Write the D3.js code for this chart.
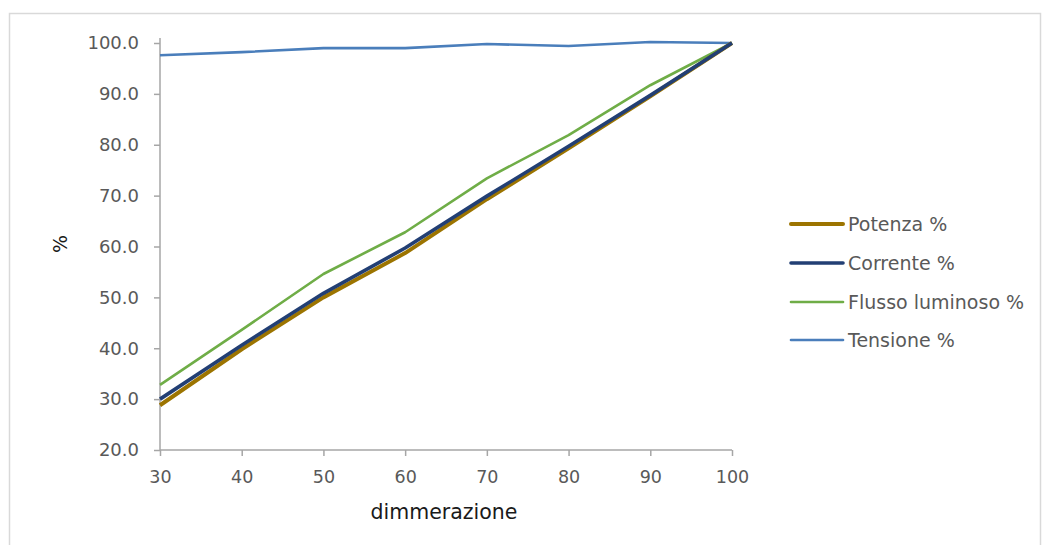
<!DOCTYPE html>
<html>
<head>
<meta charset="utf-8">
<script src="https://cdn.jsdelivr.net/npm/d3@7"></script>
<style>
  html, body { margin: 0; padding: 0; background: #fff; }
  svg { display: block; }
  text { font-family: "DejaVu Sans", "Open Sans", sans-serif; }
</style>
</head>
<body>
<svg id="chart" width="1048" height="545"></svg>
<script>
const dimming = [30, 40, 50, 60, 70, 80, 90, 100];
const potenza = [28.8, 39.8, 50.0, 58.7, 69.3, 79.3, 89.5, 100.0];
const corrente = [30.0, 40.6, 50.8, 59.7, 69.9, 79.7, 89.7, 100.0];
const flusso = [32.8, 43.6, 54.6, 62.8, 73.4, 81.9, 91.7, 100.0];
const tensione = [97.6, 98.2, 99.0, 99.0, 99.8, 99.4, 100.2, 100.0];
const yTicks = [20, 30, 40, 50, 60, 70, 80, 90, 100];
const seriesNames = ["Potenza %", "Corrente %", "Flusso luminoso %", "Tensione %"];
const seriesColors = ["#9C7400", "#223F74", "#6FAD47", "#4A7EBB"];
const seriesWidths = [4, 3.6, 2.6, 2.6];

const series = [potenza, corrente, flusso, tensione].map((vals, i) => ({
  name: seriesNames[i], color: seriesColors[i], width: seriesWidths[i],
  values: vals.map((v, j) => ({x: dimming[j], y: v}))
}));

const svg = d3.select("#chart");
svg.append("rect").attr("x", 9.5).attr("y", 13.5).attr("width", 1031).attr("height", 545)
  .attr("fill", "none").attr("stroke", "#D9D9D9").attr("stroke-width", 1.5);

const x = d3.scaleLinear().domain([30, 100]).range([160, 732]);
const y = d3.scaleLinear().domain([20, 100]).range([450, 43]);

const axisColor = "#A6A6A6";
const gy = svg.append("g").attr("transform", "translate(160,0)")
  .call(d3.axisLeft(y).tickValues(yTicks).tickFormat(d3.format(".1f")).tickSize(6).tickPadding(15));
gy.select(".domain").attr("stroke", axisColor).attr("stroke-width", 1.5).attr("d", `M0,${y(20)}V38`);
gy.selectAll(".tick line").attr("stroke", axisColor).attr("stroke-width", 1.5);
gy.selectAll(".tick text").attr("fill", "#595959").style("font-size", "18px")
  .style("font-family", "'DejaVu Sans', sans-serif");

const gx = svg.append("g").attr("transform", `translate(0,${y(20)})`)
  .call(d3.axisBottom(x).tickValues(dimming).tickSize(6).tickPadding(15));
gx.select(".domain").attr("stroke", axisColor).attr("stroke-width", 1.5).attr("d", `M${x(30)},0H${x(100)}`);
gx.selectAll(".tick line").attr("stroke", axisColor).attr("stroke-width", 1.5);
gx.selectAll(".tick text").attr("fill", "#595959").style("font-size", "17.5px")
  .style("font-family", "'DejaVu Sans', sans-serif");

svg.append("text").attr("x", 444).attr("y", 519).attr("text-anchor", "middle")
  .style("font-size", "20.5px").attr("fill", "#1a1a1a").text("dimmerazione");
svg.append("text").attr("transform", "translate(67,244) rotate(-90)").attr("text-anchor", "middle")
  .style("font-size", "19px").attr("fill", "#1a1a1a").text("%");

const line = d3.line().x(d => x(d.x)).y(d => y(d.y));
const order = [3, 2, 0, 1];
order.forEach(i => {
  const s = series[i];
  svg.append("path").datum(s.values).attr("d", line)
    .attr("fill", "none").attr("stroke", s.color).attr("stroke-width", s.width)
    .attr("stroke-linejoin", "round");
});

const legY = [224, 263, 302, 340];
const leg = svg.append("g");
series.forEach((s, i) => {
  leg.append("line").attr("x1", 791).attr("x2", 843).attr("y1", legY[i]).attr("y2", legY[i])
    .attr("stroke", s.color).attr("stroke-width", s.width).attr("stroke-linecap", "round");
  leg.append("text").attr("x", 848).attr("y", legY[i]).attr("dy", "0.36em")
    .style("font-size", "19px").attr("fill", "#595959").text(s.name);
});
</script>
</body>
</html>
